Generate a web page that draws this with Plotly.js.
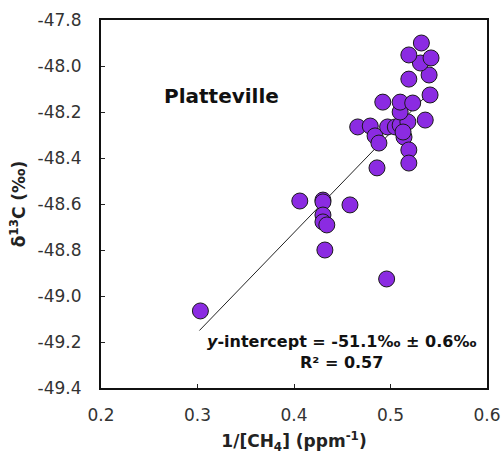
<!DOCTYPE html>
<html>
<head>
<meta charset="utf-8">
<script src="https://cdn.plot.ly/plotly-3.0.1.min.js"></script>
<style>html,body{margin:0;padding:0;background:#fff;}#chart{width:504px;height:456px;}</style>
</head>
<body>
<div id="chart"></div>
<script>
const invCH4 = [0.303,0.406,0.430,0.430,0.430,0.430,0.434,0.432,0.458,0.496,0.486,0.466,0.479,0.484,0.488,0.497,0.505,0.510,0.518,0.510,0.514,0.519,0.519,0.536,0.492,0.510,0.523,0.541,0.519,0.540,0.531,0.542,0.519,0.532,0.513];
const d13C = [-49.065,-48.587,-48.583,-48.591,-48.648,-48.678,-48.691,-48.800,-48.604,-48.926,-48.443,-48.265,-48.261,-48.304,-48.335,-48.265,-48.265,-48.257,-48.243,-48.200,-48.309,-48.365,-48.422,-48.235,-48.157,-48.157,-48.161,-48.126,-48.057,-48.039,-47.987,-47.965,-47.952,-47.900,-48.287];
const fitX = [0.302, 0.538];
const fitY = [-49.15, -48.125];
const xTicks = [0.2,0.3,0.4,0.5,0.6];
const yTicks = [-49.4,-49.2,-49.0,-48.8,-48.6,-48.4,-48.2,-48.0,-47.8];

const font = "DejaVu Sans, Liberation Sans, Arial, sans-serif";
const traces = [
  {x: fitX, y: fitY, mode: 'lines', line: {color: '#222', width: 1}, hoverinfo: 'skip'},
  {x: invCH4, y: d13C, mode: 'markers', marker: {size: 16, color: '#8B2BE2', line: {color: '#1a1a1a', width: 1}}}
];
const layout = {
  width: 504, height: 456,
  margin: {l: 101, r: 17, t: 20, b: 68},
  paper_bgcolor: '#fff', plot_bgcolor: '#fff',
  showlegend: false,
  font: {family: font, color: '#222'},
  xaxis: {
    range: [0.2, 0.6], tickvals: xTicks, ticktext: xTicks.map(v => v.toFixed(1)),
    ticks: 'inside', ticklen: 4, tickcolor: '#222', showgrid: false, zeroline: false,
    showline: true, linecolor: '#111', linewidth: 2, mirror: true,
    tickfont: {size: 17, color: '#333'}, ticklabelstandoff: 11,
    title: {text: '<b>1/[CH<sub>4</sub>] (ppm<sup>-1</sup>)</b>', font: {size: 17, color: '#222'}, standoff: 11}
  },
  yaxis: {
    range: [-49.4, -47.8], tickvals: yTicks, ticktext: yTicks.map(v => v.toFixed(1)),
    ticks: 'inside', ticklen: 4, tickcolor: '#222', showgrid: false, zeroline: false,
    showline: true, linecolor: '#111', linewidth: 2, mirror: true,
    tickfont: {size: 17, color: '#333'}, ticklabelstandoff: 14,
    title: {text: '<b>δ<sup>13</sup>C (‰)</b>', font: {size: 17, color: '#222'}, standoff: 8}
  },
  annotations: [
    {xref: 'paper', yref: 'paper', x: 0.311, y: 0.793, xanchor: 'center', yanchor: 'middle', text: '<b>Platteville</b>', showarrow: false,
     font: {size: 20, color: '#111', family: font}},
    {xref: 'paper', yref: 'paper', x: 0.624, y: 0.037, xanchor: 'center', text: '<b><i>y</i>-intercept = -51.1‰ ± 0.6‰<br>R² = 0.57</b>',
     showarrow: false, align: 'center', font: {size: 16, color: '#111', family: font}}
  ]
};
Plotly.newPlot('chart', traces, layout, {displayModeBar: false, staticPlot: true});
</script>
</body>
</html>
